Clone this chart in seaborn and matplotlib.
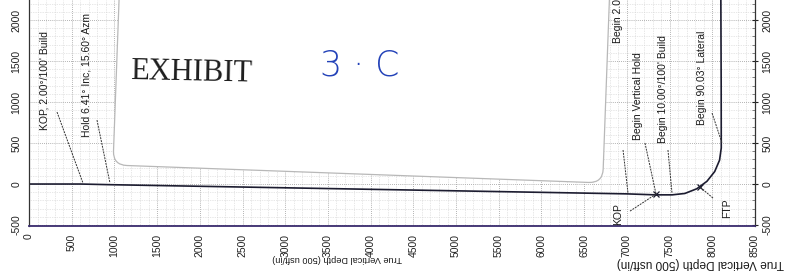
import numpy as np
import matplotlib
matplotlib.use("Agg")
import matplotlib.pyplot as plt
import seaborn as sns
from matplotlib.patches import FancyBboxPatch
from matplotlib.transforms import Affine2D

# ---------------------------- data ----------------------------#
# wellpath: true vertical depth vs vertical section (usft)
tvd = [0, 600, 950, 7000, 7330, 7530, 7679, 7818, 7937, 8028, 8085, 8105, 8104, 8100]
vs = [0, 0, -8, -120, -132, -132, -115, -58, 33, 152, 291, 440, 1200, 2300]

x_ticks = list(range(0, 8501, 500))
y_ticks = list(range(-500, 2001, 500))

# annotations: label, text anchor (tvd, vs), leader start, leader end
ann_labels = ["KOP, 2.00°/100' Build", "Hold 6.41° Inc, 15.60° Azm",
              "Begin 2.00°/100' Drop", "Begin Vertical Hold",
              "Begin 10.00°/100' Build", "Begin 90.03° Lateral", "KOP", "FTP"]
ann_text_x = [176, 679, 6896, 7130, 7423, 7880, 6896, 8172]
ann_text_y = [659, 573, 1720, 537, 500, 720, -505, -410]
lead_x0 = [328, 796, 6955, 7212, 7481, 7997, 7037, 8008]
lead_y0 = [878, 780, 415, 500, 415, 866, -330, -171]
lead_x1 = [632, 948, 7013, 7341, 7528, 8114, 7341, 7856]
lead_y1 = [12, 12, -110, -122, -110, 500, -122, -37]

marker_x = [7341, 7856]
marker_y = [-122, -37]

#--------------------------------- figure ---------------------------------#
sns.set_style("white")
plt.rcParams['font.family'] = ['Liberation Sans', 'DejaVu Sans']

W, H = 794, 271
fig = plt.figure(figsize=(W / 100, H / 100), dpi=100)
fig.patch.set_facecolor("white")
ax = fig.add_axes([29 / W, (H - 226) / H, (755 - 29) / W, 226 / H])

path_color = "#1c1c30"
sns.lineplot(x=tvd, y=vs, sort=False, estimator=None, color=path_color,
             linewidth=1.2, ax=ax)
ax.plot(marker_x, marker_y, linestyle="none", marker="x", markersize=5,
        color=path_color, markeredgewidth=0.9)

ax.set_xlim(0, 8500)
ax.set_ylim(-512, 2245)
ax.set_xticks(x_ticks)
ax.set_yticks(y_ticks)
ax.set_xticks(range(0, 8501, 100), minor=True)
ax.set_yticks(range(-500, 2201, 100), minor=True)
ax.set_xticklabels([str(t) for t in x_ticks], rotation=90, fontsize=7.5)
ax.set_yticklabels([str(t) for t in y_ticks], rotation=90, va="center", fontsize=7.5)
ax.tick_params(axis="y", which="both", right=True, labelright=True)
ax.tick_params(axis="both", which="major", direction="inout", length=5, width=0.8,
               pad=3, colors="#222222")
ax.tick_params(axis="both", which="minor", direction="in", length=2, width=0.5,
               colors="#555555")
for lab in ax.get_yticklabels():
    lab.set_rotation(90)

ax.grid(which="major", color="#9a9a9a", linestyle=(0, (1, 1.5)), linewidth=0.6)
ax.grid(which="minor", color="#d0d0d0", linestyle=(0, (1, 1.5)), linewidth=0.5)
ax.set_axisbelow(True)
ax.spines["top"].set_visible(False)
ax.spines["bottom"].set_color("#3a2c6e")
ax.spines["bottom"].set_linewidth(1.3)
for s in ["left", "right"]:
    ax.spines[s].set_color("#333333")
    ax.spines[s].set_linewidth(0.9)
ax.set_xlabel("")
ax.set_ylabel("")

# annotation labels with dotted leaders
for lab, tx, ty, x0, y0, x1, y1 in zip(ann_labels, ann_text_x, ann_text_y,
                                       lead_x0, lead_y0, lead_x1, lead_y1):
    ax.text(tx, ty, lab, rotation=90, ha="center", va="bottom", fontsize=7.5,
            color="#1a1a1a", clip_on=False)
    ax.plot([x0, x1], [y0, y1], color="#333333", linestyle=(0, (2, 1)),
            linewidth=0.7)

# upside-down axis labels from the scanned page
fig.text(337 / W, 1 - 258 / H, "True Vertical Depth (500 usft/in)", rotation=180,
         ha="center", va="center", fontsize=6.6, color="#1a1a1a")
fig.text(700 / W, 1 - 263 / H, "True Vertical Depth (500 usft/in)", rotation=180,
         ha="center", va="center", fontsize=8.6, color="#1a1a1a")
fig.text(-2 / W, 1 - 115 / H, "Vertical Section at 15.60° (500 usft/in)", rotation=90,
         ha="center", va="bottom", fontsize=7.5, color="#1a1a1a")

# exhibit sticker on top of the scan
sticker_tr = Affine2D().rotate_deg_around(113, H - 165, -2.1).scale(1 / 100) + fig.dpi_scale_trans
sticker = FancyBboxPatch((113, H - 165), 490, 320,
                         boxstyle="round,pad=0,rounding_size=14",
                         facecolor="white", edgecolor="#b8b8b8", linewidth=0.9,
                         transform=sticker_tr, zorder=5)
fig.patches.append(sticker)
fig.text(130 / W, 1 - 73 / H, "EXHIBIT", family=["Liberation Serif", "DejaVu Serif"],
         fontsize=22, ha="left", va="center", rotation=-1.2, color="#1e1e1e", zorder=6)
fig.text(360 / W, 1 - 66 / H, "3 · C", family=["DejaVu Sans"], fontweight="light",
         fontsize=25, ha="center", va="center", color="#2342b8", zorder=6)

fig.savefig("out.png", dpi=100)
